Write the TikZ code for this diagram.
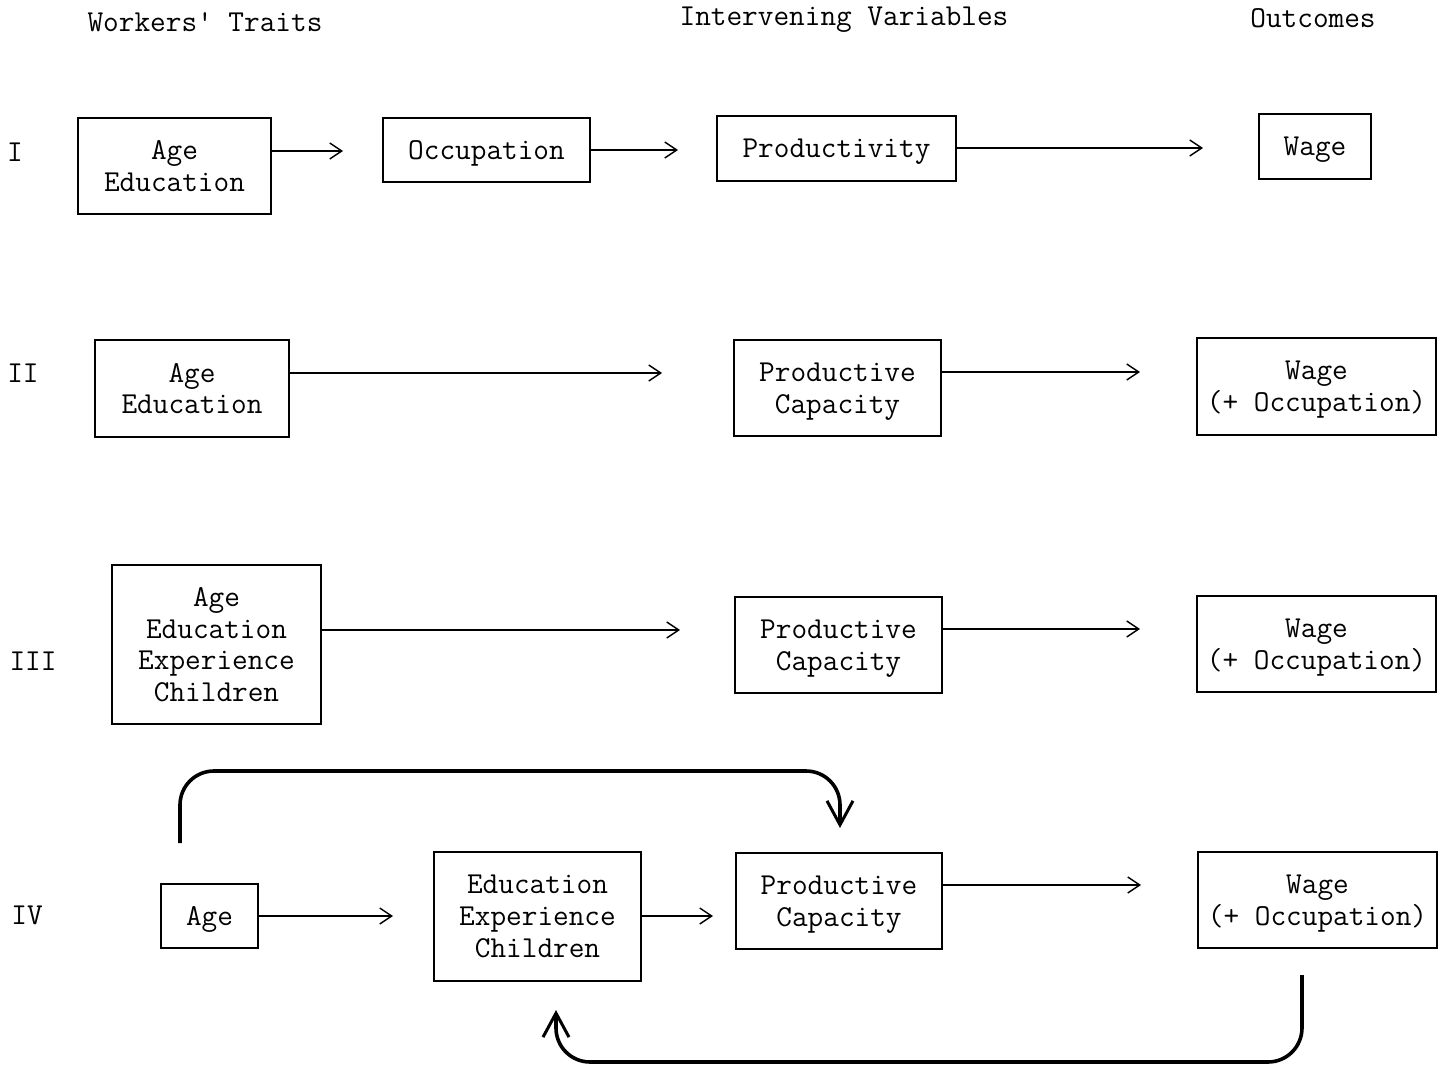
\documentclass[tikz,border=0pt]{standalone}
\usetikzlibrary{arrows.meta}
\newcommand{\twfont}{\ttfamily\fontsize{15.2}{15.9}\selectfont}
\tikzset{
  box/.style={draw, line width=0.7pt, align=center, inner sep=0pt, text depth=0pt, font=\twfont},
  lbl/.style={inner sep=0pt, font=\twfont},
  arr/.style={line width=0.7pt, -{Straight Barb[length=6pt,width=8pt,line width=0.7pt]}},
  bigarr/.style={line width=1.8pt, rounded corners=17pt, -{Straight Barb[length=12pt,width=13pt,line width=1.5pt]}}
}
\begin{document}
\begin{tikzpicture}[x=0.5pt,y=-0.5pt]
\useasboundingbox (0,0) rectangle (1448,1065);
% headers
\node[lbl] (h1) at (205,22) {Workers' Traits};
\node[lbl] (h2) at (844,20) {Intervening Variables};
\node[lbl] (h3) at (1313,18) {Outcomes};
% row labels
\node[lbl] (r1) at (15,152) {I};
\node[lbl] (r2) at (23,373) {II};
\node[lbl] (r3) at (33,661) {III};
\node[lbl] (r4) at (27,915) {IV};
% row I
\node[box, minimum width=96.5pt, minimum height=48pt] (a1) at (174.5,166) {Age\\Education};
\node[box, minimum width=103.5pt, minimum height=32pt] (o1) at (486.5,150) {Occupation};
\node[box, minimum width=119.5pt, minimum height=32.5pt] (p1) at (836.5,148.5) {Productivity};
\node[box, minimum width=56pt, minimum height=32.5pt] (w1) at (1315,146.5) {Wage};
\coordinate (t11) at (343,151);
\coordinate (t12) at (678,150);
\coordinate (t13) at (1203,148);
\draw[arr] (a1.east |- t11) -- (t11);
\draw[arr] (o1.east |- t12) -- (t12);
\draw[arr] (p1.east |- t13) -- (t13);
% row II
\node[box, minimum width=97pt, minimum height=48.5pt] (a2) at (192,388.5) {Age\\Education};
\node[box, minimum width=103.5pt, minimum height=48pt] (p2) at (837.5,388) {Productive\\Capacity};
\node[box, minimum width=119.5pt, minimum height=48.5pt] (w2) at (1316.5,386.5) {Wage\\(+ Occupation)};
\coordinate (t21) at (662,373);
\coordinate (t22) at (1140,372);
\draw[arr] (a2.east |- t21) -- (t21);
\draw[arr] (p2.east |- t22) -- (t22);
% row III
\node[box, minimum width=104.5pt, minimum height=79.5pt] (a3) at (216.5,644.5) {Age\\Education\\Experience\\Children};
\node[box, minimum width=103.5pt, minimum height=48pt] (p3) at (838.5,645) {Productive\\Capacity};
\node[box, minimum width=119.5pt, minimum height=48pt] (w3) at (1316.5,644) {Wage\\(+ Occupation)};
\coordinate (t31) at (680,630);
\coordinate (t32) at (1140,629);
\draw[arr] (a3.east |- t31) -- (t31);
\draw[arr] (p3.east |- t32) -- (t32);
% row IV
\node[box, minimum width=48.5pt, minimum height=32pt] (a4) at (209.5,916) {Age};
\node[box, minimum width=103.5pt, minimum height=64.5pt] (e4) at (537.5,916.5) {Education\\Experience\\Children};
\node[box, minimum width=103pt, minimum height=48pt] (p4) at (839,901) {Productive\\Capacity};
\node[box, minimum width=119.5pt, minimum height=48pt] (w4) at (1317.5,900) {Wage\\(+ Occupation)};
\coordinate (t41) at (393,916);
\coordinate (t42) at (713,916);
\coordinate (t43) at (1141,885);
\draw[arr] (a4.east |- t41) -- (t41);
\draw[arr] (e4.east |- t42) -- (t42);
\draw[arr] (p4.east |- t43) -- (t43);
% feedback arrows
\coordinate (s1) at (180,843);
\coordinate (e1) at (840,828);
\draw[bigarr] (s1) -- (180,771) -- (e1 |- 0,771) -- (e1);
\coordinate (s2) at (1302,975);
\coordinate (e2) at (556,1010);
\draw[bigarr] (s2) -- (1302,1062) -- (e2 |- 0,1062) -- (e2);
\end{tikzpicture}
\end{document}
